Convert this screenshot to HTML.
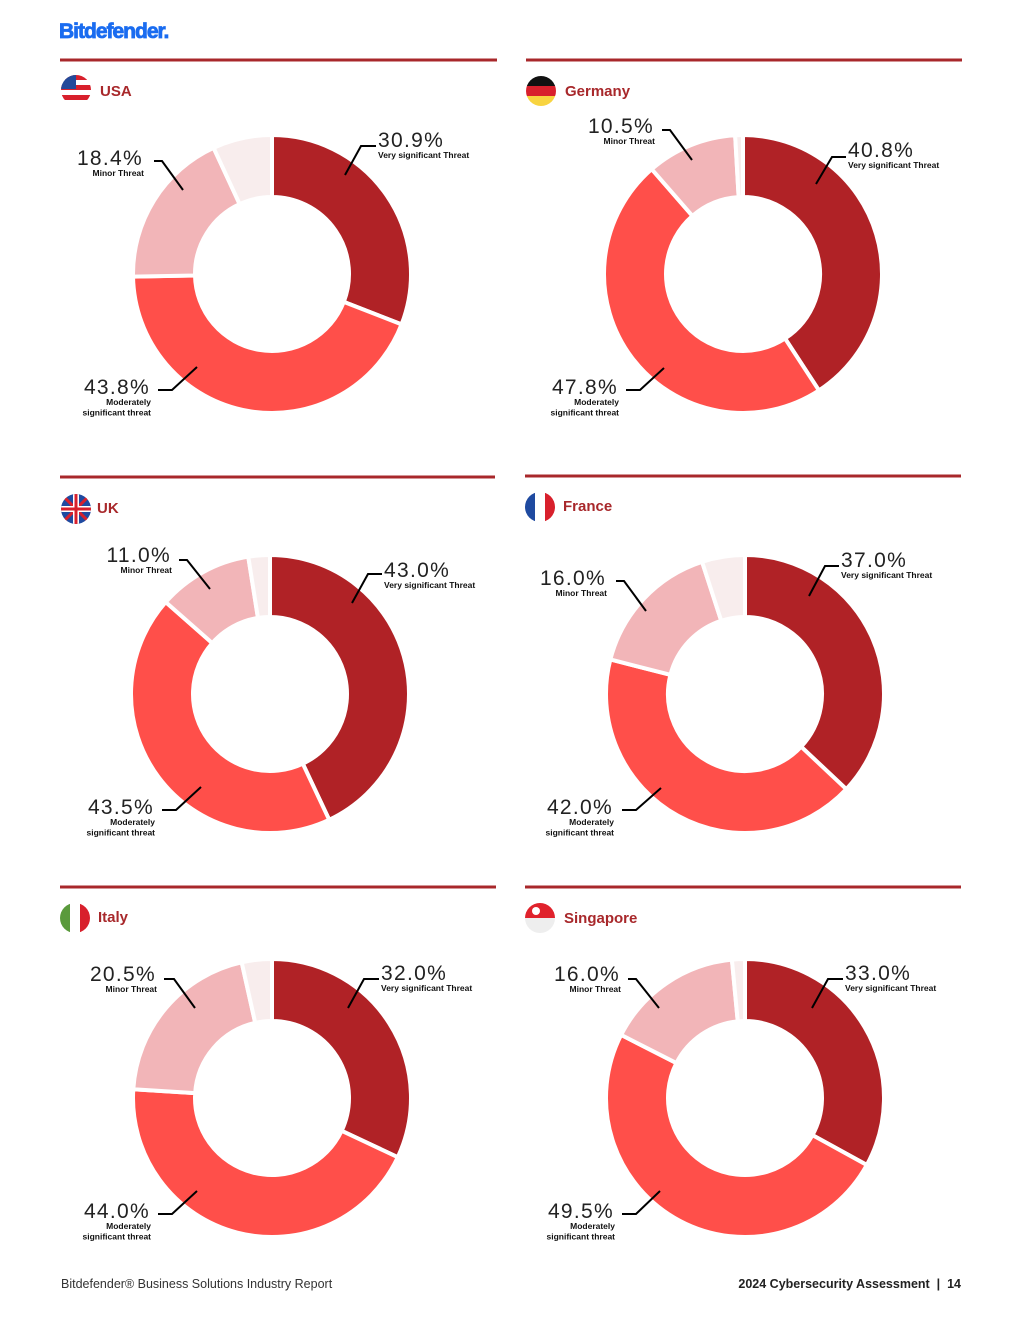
<!DOCTYPE html>
<html><head><meta charset="utf-8"><style>
html,body{margin:0;padding:0;background:#fff;}
svg{display:block;font-family:"Liberation Sans",sans-serif;}
</style></head><body>
<svg id="page" width="1020" height="1320" viewBox="0 0 1020 1320">
<text x="59" y="38" font-size="21" font-weight="bold" fill="#1a6cf0" stroke="#1a6cf0" stroke-width="0.8" letter-spacing="-1">Bitdefender.</text>
<g id="charts"></g>
<text x="61" y="1288" font-size="12.5" fill="#333">Bitdefender® Business Solutions Industry Report</text>
<text x="961" y="1288" font-size="12.5" font-weight="bold" fill="#222" text-anchor="end" xml:space="preserve">2024 Cybersecurity Assessment  |  14</text>
</svg>
<script>
const countries = ['USA','Germany','UK','France','Italy','Singapore'];
const verySignificant = [30.9, 40.8, 43.0, 37.0, 32.0, 33.0];
const moderatelySignificant = [43.8, 47.8, 43.5, 42.0, 44.0, 49.5];
const minorThreat = [18.4, 10.5, 11.0, 16.0, 20.5, 16.0];
const sliceColors = ['#b02226', '#ff4f4a', '#f2b5b8', '#f8eded'];

const NS = 'http://www.w3.org/2000/svg';
const root = document.getElementById('charts');
function mk(tag, attrs, parent){const e=document.createElementNS(NS,tag);for(const k in attrs)e.setAttribute(k,attrs[k]);parent.appendChild(e);return e;}

const layout = [
 {cx:272,cy:274,line:[60,497,60],flag:[76,90],title:[100,96],
  very:{t:[378,147],l:'345,175 361,146 376,146'},minor:{t:[143,165],l:'154,161 162,161 183,190'},mod:{t:[150,394],l:'158,390 172,390 197,367'}},
 {cx:743,cy:274,line:[526,962,60],flag:[541,91],title:[565,96],
  very:{t:[848,157],l:'816,184 832,157 846,157'},minor:{t:[654,133],l:'662,130 670,130 692,160'},mod:{t:[618,394],l:'626,390 640,390 664,368'}},
 {cx:270,cy:694,line:[60,495,477],flag:[76,509],title:[97,513],
  very:{t:[384,577],l:'352,603 368,574 382,574'},minor:{t:[171,562],l:'179,560 187,560 210,589'},mod:{t:[154,814],l:'162,810 176,810 201,787'}},
 {cx:745,cy:694,line:[525,961,476],flag:[540,507],title:[563,511],
  very:{t:[841,567],l:'809,596 825,566 839,566'},minor:{t:[606,585],l:'616,581 624,581 646,611'},mod:{t:[613,814],l:'622,810 636,810 661,788'}},
 {cx:272,cy:1098,line:[60,496,887],flag:[75,918],title:[98,922],
  very:{t:[381,980],l:'348,1008 364,979 379,979'},minor:{t:[156,981],l:'164,979 174,979 195,1008'},mod:{t:[150,1218],l:'158,1214 172,1214 197,1191'}},
 {cx:745,cy:1098,line:[525,961,887],flag:[540,918],title:[564,923],
  very:{t:[845,980],l:'812,1008 828,979 843,979'},minor:{t:[620,981],l:'628,979 636,979 659,1008'},mod:{t:[614,1218],l:'622,1214 636,1214 660,1191'}}
];
const RO=139, RI=77;
function pt(cx,cy,r,frac){const a=frac*2*Math.PI;return [cx+r*Math.sin(a),cy-r*Math.cos(a)];}
function arc(cx,cy,f0,f1){
  const large=(f1-f0)>0.5?1:0;
  const a=pt(cx,cy,RO,f0),b=pt(cx,cy,RO,f1),c=pt(cx,cy,RI,f1),d=pt(cx,cy,RI,f0);
  return `M${a[0]},${a[1]}A${RO},${RO} 0 ${large} 1 ${b[0]},${b[1]}L${c[0]},${c[1]}A${RI},${RI} 0 ${large} 0 ${d[0]},${d[1]}Z`;
}
function flag(g,i,x,y){
  const id='clip'+i;
  const cp=mk('clipPath',{id:id},g);mk('circle',{cx:x,cy:y,r:15},cp);
  const f=mk('g',{'clip-path':`url(#${id})`},g);
  if(i===0){for(let k=0;k<6;k++)mk('rect',{x:x-15,y:y-15+k*5,width:30,height:5,fill:k%2?'#fff':'#d8202c'},f);mk('rect',{x:x-15,y:y-15,width:15,height:14,fill:'#234a9a'},f);}
  else if(i===1){mk('rect',{x:x-15,y:y-15,width:30,height:10,fill:'#111'},f);mk('rect',{x:x-15,y:y-5,width:30,height:10,fill:'#d8202c'},f);mk('rect',{x:x-15,y:y+5,width:30,height:10,fill:'#f8d440'},f);}
  else if(i===2){mk('rect',{x:x-15,y:y-15,width:30,height:30,fill:'#1f4aa0'},f);mk('path',{d:`M${x-15},${y-15}L${x+15},${y+15}M${x+15},${y-15}L${x-15},${y+15}`,stroke:'#d8202c','stroke-width':3},f);mk('path',{d:`M${x},${y-15}V${y+15}M${x-15},${y}H${x+15}`,stroke:'#fff','stroke-width':6},f);mk('path',{d:`M${x},${y-15}V${y+15}M${x-15},${y}H${x+15}`,stroke:'#d8202c','stroke-width':3},f);}
  else if(i===3){mk('rect',{x:x-15,y:y-15,width:10,height:30,fill:'#1f4aa0'},f);mk('rect',{x:x-5,y:y-15,width:10,height:30,fill:'#fff'},f);mk('rect',{x:x+5,y:y-15,width:10,height:30,fill:'#d8202c'},f);}
  else if(i===4){mk('rect',{x:x-15,y:y-15,width:10,height:30,fill:'#5a9a3c'},f);mk('rect',{x:x-5,y:y-15,width:10,height:30,fill:'#fff'},f);mk('rect',{x:x+5,y:y-15,width:10,height:30,fill:'#d8202c'},f);}
  else {mk('rect',{x:x-15,y:y-15,width:30,height:15,fill:'#e0222c'},f);mk('rect',{x:x-15,y:y,width:30,height:15,fill:'#eee'},f);mk('circle',{cx:x-4,cy:y-7,r:4,fill:'#fff'},f);}
}
function label(g,name,cfg,val,lines,anchor){
  const lg=mk('g',{},g);
  
  
  mk('polyline',{points:cfg.l,fill:'none',stroke:'#000','stroke-width':2},lg);
  const t=mk('text',{x:cfg.t[0],y:cfg.t[1],'font-size':21,fill:'#222','text-anchor':anchor,'font-weight':'normal','letter-spacing':'1.3'},lg);
  t.textContent=val.toFixed(1)+'%';
  lines.forEach((s,k)=>{const st=mk('text',{x:cfg.t[0]+(anchor==='end'?1:0),y:cfg.t[1]+11+k*10.5,'font-size':8.5,fill:'#111','text-anchor':anchor,'font-weight':'bold'},lg);st.textContent=s;});
}
countries.forEach((c,i)=>{
  const L=layout[i];
  const g=mk('g',{},root);
  
  
  const hr=mk('rect',{x:L.line[0],y:L.line[2]-1.5,width:L.line[1]-L.line[0],height:3,fill:'#a8282b'},g);
  
  
  flag(g,i,L.flag[0],L.flag[1]);
  const tt=mk('text',{x:L.title[0],y:L.title[1],'font-size':15,'font-weight':'bold',fill:'#a8282b'},g);
  
  
  tt.textContent=c;
  const vals=[verySignificant[i],moderatelySignificant[i],minorThreat[i]];
  vals.push(Math.max(0,100-vals[0]-vals[1]-vals[2]));
  const names=['slice-very-significant','slice-moderately-significant','slice-minor','slice-not-significant'];
  let acc=0;
  vals.forEach((v,k)=>{
    const f0=acc/100,f1=(acc+v)/100;acc+=v;
    const p=mk('path',{d:arc(L.cx,L.cy,f0,f1),fill:sliceColors[k],stroke:'#fff','stroke-width':4,'stroke-linejoin':'miter'},g);
    
    
  });
  label(g,'label-very-significant',L.very,vals[0],['Very significant Threat'],'start');
  label(g,'label-minor',L.minor,vals[2],['Minor Threat'],'end');
  label(g,'label-moderately-significant',L.mod,vals[1],['Moderately','significant threat'],'end');
});
</script>
</body></html>
